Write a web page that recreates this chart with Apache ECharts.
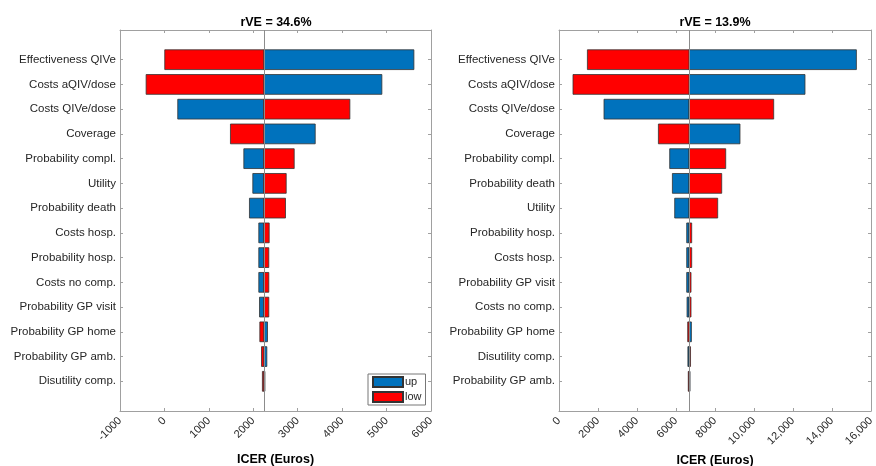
<!DOCTYPE html>
<html>
<head>
<meta charset="utf-8">
<script src="https://cdn.jsdelivr.net/npm/echarts@6/dist/echarts.min.js"></script>
<style>
  html, body { margin: 0; padding: 0; background: #fff; }
  #chart { width: 876px; height: 466px; }
</style>
</head>
<body>
<div id="chart"></div>
<script>
// left panel (rVE = 34.6%)
const leftTitle = "rVE = 34.6%";
const leftBase = 2236;
const leftNames = [
  "Effectiveness QIVe", "Costs aQIV/dose", "Costs QIVe/dose", "Coverage",
  "Probability compl.", "Utility", "Probability death", "Costs hosp.",
  "Probability hosp.", "Costs no comp.", "Probability GP visit",
  "Probability GP home", "Probability GP amb.", "Disutility comp."
];
const leftUp = [5615, 4894, 300, 3394, 1787, 1989, 1914, 2124, 2124, 2124, 2140, 2320, 2305, 2262];
const leftLow = [7, -412, 4174, 1486, 2921, 2741, 2725, 2358, 2349, 2349, 2349, 2147, 2185, 2205];
const leftTicks = [-1000, 0, 1000, 2000, 3000, 4000, 5000, 6000];

// right panel (rVE = 13.9%)
const rightTitle = "rVE = 13.9%";
const rightBase = 6667;
const rightNames = [
  "Effectiveness QIVe", "Costs aQIV/dose", "Costs QIVe/dose", "Coverage",
  "Probability compl.", "Probability death", "Utility", "Probability hosp.",
  "Costs hosp.", "Probability GP visit", "Costs no comp.",
  "Probability GP home", "Disutility comp.", "Probability GP amb."
];
const rightUp = [15251, 12615, 2308, 9282, 5677, 5815, 5933, 6549, 6549, 6549, 6566, 6790, 6610, 6720];
const rightLow = [1456, 718, 11010, 5097, 8549, 8344, 8138, 6805, 6805, 6770, 6770, 6600, 6745, 6630];
const rightTicks = [0, 2000, 4000, 6000, 8000, 10000, 12000, 14000, 16000];

const BLUE = "#0072BD";
const RED = "#FF0000";
const FRAME = "#a0a0a0";
const TEXT = "#262626";
const FONT = "Liberation Sans, Arial, sans-serif";

const rows = leftNames.map((_, i) => i + 1);

function fmtThousands(v) {
  return v >= 10000 ? String(v).replace(/\B(?=(\d{3})+(?!\d))/g, ",") : String(v);
}

function makeRender(base) {
  return function (params, api) {
    const v = api.value(0);
    const row = api.value(1);
    const p0 = api.coord([base, row]);
    const p1 = api.coord([v, row]);
    const h = api.size([0, 0.8])[1];
    return {
      type: "rect",
      shape: {
        x: Math.min(p0[0], p1[0]),
        y: p0[1] - h / 2,
        width: Math.abs(p1[0] - p0[0]),
        height: h
      },
      style: api.style()
    };
  };
}

function xAxes(grid, ticks, isTop) {
  const min = ticks[0], max = ticks[ticks.length - 1];
  const interval = ticks[1] - ticks[0];
  return {
    gridIndex: grid,
    type: "value",
    position: isTop ? "top" : "bottom",
    min, max, interval,
    splitLine: { show: false },
    axisLine: { show: true, onZero: false, lineStyle: { color: FRAME, width: 1 } },
    axisTick: { show: true, inside: true, length: 3, lineStyle: { color: FRAME } },
    axisLabel: isTop ? { show: false } : {
      show: true, rotate: 45, color: TEXT, fontSize: 11, fontFamily: FONT, margin: 8,
      formatter: fmtThousands
    },
    name: isTop ? "" : "ICER (Euros)",
    nameLocation: "middle",
    nameGap: 42,
    nameTextStyle: { color: "#000", fontWeight: "bold", fontSize: 12.5, fontFamily: FONT }
  };
}

function yAxes(grid, names, isRight) {
  return {
    gridIndex: grid,
    type: "value",
    inverse: true,
    min: -0.2,
    max: 15.2,
    position: isRight ? "right" : "left",
    splitLine: { show: false },
    axisLine: { show: true, onZero: false, lineStyle: { color: FRAME, width: 1 } },
    axisTick: { show: true, inside: true, length: 3, customValues: rows, lineStyle: { color: FRAME } },
    axisLabel: isRight ? { show: false } : {
      show: true, customValues: rows, color: TEXT, fontSize: 11.5, fontFamily: FONT, margin: 4,
      formatter: v => names[Math.round(v) - 1] || ""
    }
  };
}

function barSeries(name, color, values, axisIdx, base, withLine) {
  const s = {
    name,
    type: "custom",
    xAxisIndex: axisIdx,
    yAxisIndex: axisIdx,
    renderItem: makeRender(base),
    encode: { x: 0, y: 1 },
    itemStyle: { color, borderColor: "#333", borderWidth: 0.8 },
    data: values.map((v, i) => [v, rows[i]]),
    z: 3
  };
  if (withLine) {
    s.markLine = {
      silent: true,
      symbol: "none",
      label: { show: false },
      lineStyle: { color: "#8c8c8c", width: 1, type: "solid" },
      data: [{ xAxis: base }],
      z: 5
    };
  }
  return s;
}

const chart = echarts.init(document.getElementById("chart"), null, { renderer: "canvas" });

const titleStyle = { fill: "#000", font: "bold 12.5px " + FONT };

const option = {
  animation: false,
  backgroundColor: "#fff",
  graphic: [
    { type: "text", x: 276, y: 23,
      style: Object.assign({ text: leftTitle, textAlign: "center", textVerticalAlign: "middle" }, titleStyle) },
    { type: "text", x: 715, y: 23,
      style: Object.assign({ text: rightTitle, textAlign: "center", textVerticalAlign: "middle" }, titleStyle) }
  ],
  grid: [
    { left: 120, top: 30, width: 311, height: 381, outerBoundsMode: "none" },
    { left: 559, top: 30, width: 312, height: 381, outerBoundsMode: "none" }
  ],
  xAxis: [
    xAxes(0, leftTicks, false),
    xAxes(0, leftTicks, true),
    xAxes(1, rightTicks, false),
    xAxes(1, rightTicks, true)
  ],
  yAxis: [
    yAxes(0, leftNames, false),
    yAxes(0, leftNames, true),
    yAxes(1, rightNames, false),
    yAxes(1, rightNames, true)
  ],
  legend: {
    data: [{ name: "up", icon: "rect" }, { name: "low", icon: "rect" }],
    orient: "vertical",
    left: 368,
    top: 374,
    itemWidth: 30,
    itemHeight: 10,
    itemGap: 3,
    padding: [2, 4, 2, 4],
    borderColor: "#777",
    borderWidth: 1,
    backgroundColor: "#fff",
    textStyle: { color: TEXT, fontSize: 11, lineHeight: 11, fontFamily: FONT, padding: [0, 0, 0, -3] },
    selectedMode: false
  },
  series: [
    barSeries("up", BLUE, leftUp, 0, leftBase, true),
    barSeries("low", RED, leftLow, 0, leftBase, false),
    barSeries("up", BLUE, rightUp, 2, rightBase, true),
    barSeries("low", RED, rightLow, 2, rightBase, false)
  ]
};

chart.setOption(option);
</script>
</body>
</html>
